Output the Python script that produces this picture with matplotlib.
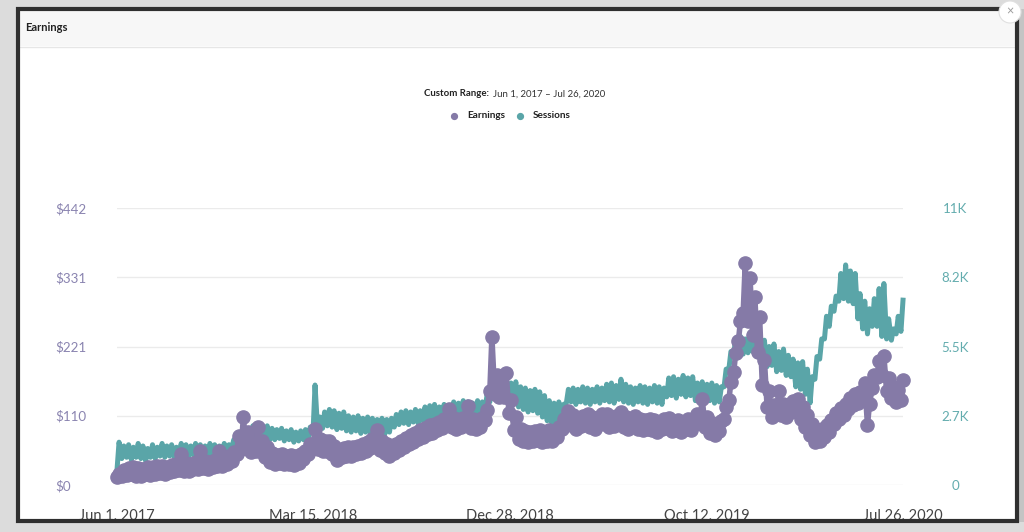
import matplotlib
matplotlib.use('Agg')
import matplotlib.pyplot as plt
import matplotlib.patches as mpatches
import numpy as np

plt.rcParams['font.family'] = ['Lato', 'DejaVu Sans']

# ---------------------------------------------------------------
# DATA  (weekly)
# ---------------------------------------------------------------
start = np.datetime64('2017-06-01')
n_weeks = 165

# earnings: low / high of each week ($)
earn_lo = [13, 14, 16, 17, 15, 14, 17, 16, 18, 19, 17, 20, 22, 24, 23, 22, 25, 26, 27, 25,
           28, 30, 30, 33, 39, 50, 58, 60, 52, 55, 54, 45, 37, 34, 35, 33, 34, 32, 35, 41,
           50, 62, 58, 54, 54, 49, 40, 45, 47, 46, 49, 51, 55, 59, 62, 56, 51, 47, 51, 56,
           61, 65, 69, 73, 77, 81, 83, 87, 91, 95, 93, 90, 93, 97, 91, 89, 93, 104, 150, 145,
           140, 140, 115, 88, 74, 70, 68, 70, 72, 69, 71, 70, 76, 90, 100, 96, 90, 94, 98, 92,
           89, 98, 98, 92, 94, 100, 92, 89, 94, 90, 87, 89, 88, 85, 89, 91, 86, 87, 84, 90,
           88, 98, 105, 92, 83, 79, 86, 105, 135, 180, 230, 275, 262, 240, 212, 160, 125, 109, 116, 111,
           109, 116, 119, 106, 93, 79, 68, 71, 77, 85, 97, 105, 111, 121, 127, 131, 140, 96, 155, 172,
           176, 150, 139, 132, 135]
earn_hi = [18, 24, 27, 28, 27, 26, 29, 28, 30, 31, 29, 32, 34, 50, 35, 34, 37, 55, 39, 37,
           40, 55, 43, 47, 53, 78, 108, 85, 68, 92, 70, 60, 51, 48, 49, 47, 48, 46, 49, 55,
           66, 90, 74, 70, 70, 63, 55, 59, 61, 60, 63, 65, 69, 73, 88, 70, 65, 61, 65, 70,
           75, 79, 83, 87, 91, 95, 97, 101, 105, 122, 107, 104, 107, 126, 105, 103, 107, 120, 236, 175,
           160, 178, 135, 108, 90, 86, 84, 86, 88, 85, 87, 86, 92, 106, 118, 112, 106, 110, 114, 108,
           105, 114, 114, 108, 110, 116, 108, 105, 110, 106, 103, 105, 104, 101, 105, 107, 102, 103, 100, 106,
           104, 114, 138, 108, 99, 95, 102, 125, 165, 210, 262, 354, 330, 300, 268, 200, 150, 127, 150, 129,
           127, 134, 137, 124, 111, 97, 85, 89, 95, 103, 115, 123, 129, 139, 145, 149, 162, 130, 175, 198,
           206, 170, 157, 151, 168]

# sessions: weekly dip / peak
sess_dip = [600, 1050, 1100, 1000, 1100, 1050, 950, 1100, 1050, 1150, 1100, 1150, 1100, 1200, 1150, 1100, 1200, 1150, 1100, 1200,
            1150, 1100, 1200, 1250, 1450, 1600, 1750, 1850, 1900, 1950, 1900, 1850, 1800, 1800, 1850, 1750, 1800, 1700, 1750, 1800,
            1850, 2050, 2100, 2250, 2350, 2300, 2200, 2250, 2150, 2100, 2150, 2050, 2100, 2050, 2000, 2050, 2000, 2100, 2300, 2400,
            2450, 2400, 2500, 2450, 2550, 2600, 2650, 2550, 2650, 2600, 2700, 2650, 2750, 2700, 2650, 2750, 2700, 3000, 3300, 3450,
            3400, 3450, 3350, 3400, 3100, 3000, 2900, 2950, 2850, 2700, 2550, 2450, 2500, 2600, 3250, 3300, 3200, 3300, 3250, 3200,
            3300, 3250, 3350, 3300, 3250, 3400, 3300, 3250, 3200, 3300, 3250, 3200, 3300, 3250, 3200, 3500, 3550, 3450, 3600, 3500,
            3550, 3350, 3400, 3300, 3350, 3250, 3300, 3900, 4600, 5200, 5300, 5200, 5250, 5300, 5100, 4950, 4700, 4750, 4500, 4550,
            4350, 4300, 3900, 3800, 3600, 3260, 4200, 5000, 5800, 6300, 6900, 7300, 7400, 7300, 7200, 6600, 6200, 6000, 6300, 6300,
            5900, 5800, 5750, 6000, 6100]
sess_peak = [1700, 1550, 1600, 1500, 1650, 1550, 1450, 1600, 1500, 1650, 1550, 1600, 1500, 1650, 1600, 1550, 1650, 1600, 1550, 1650,
             1600, 1550, 1650, 1600, 1800, 1950, 2150, 2250, 2350, 2400, 2300, 2350, 2250, 2200, 2250, 2150, 2200, 2100, 2150, 2200,
             2300, 3970, 2700, 2900, 3000, 2950, 2850, 2900, 2750, 2700, 2750, 2650, 2700, 2650, 2600, 2650, 2600, 2650, 2800, 2900,
             2950, 2900, 3000, 2950, 3100, 3150, 3200, 3100, 3200, 3150, 3300, 3250, 3350, 3300, 3250, 3350, 3300, 3600, 3900, 4200,
             4100, 4150, 4050, 4100, 3900, 3850, 3750, 3800, 3700, 3550, 3350, 3250, 3300, 3200, 3800, 3850, 3800, 3900, 3850, 3800,
             3900, 3850, 4000, 4050, 3950, 4200, 4000, 3900, 3850, 3950, 3900, 3850, 3950, 3900, 3850, 4250, 4300, 4200, 4350, 4250,
             4300, 4050, 4100, 4000, 4050, 3950, 3900, 4600, 5300, 5800, 5900, 5800, 5850, 5900, 5800, 5750, 5500, 5600, 5300, 5400,
             5150, 5000, 4850, 4900, 4600, 4300, 5100, 5800, 6700, 7100, 7500, 8400, 8740, 8500, 8400, 7600, 7300, 7000, 7400, 7800,
             8000, 6600, 6200, 6700, 7340]

earn_ticks = [0, 110.5, 221, 331.5, 442]
earn_labels = ['$0', '$110', '$221', '$331', '$442']
sess_ticks = [0, 2750, 5500, 8250, 11000]
sess_labels = ['0', '2.7K', '5.5K', '8.2K', '11K']
date_ticks = ['2017-06-01', '2018-03-15', '2018-12-28', '2019-10-12', '2020-07-26']
date_labels = ['Jun 1, 2017', 'Mar 15, 2018', 'Dec 28, 2018', 'Oct 12, 2019', 'Jul 26, 2020']

# weekly grid: dip / low at start of week, peak / high three days later
wk = start + np.arange(n_weeks) * np.timedelta64(7, 'D')
x_pair = np.column_stack([wk, wk + np.timedelta64(3, 'D')]).ravel()
earn_y = np.column_stack([earn_lo, earn_hi]).ravel()
sess_y = np.column_stack([sess_dip, sess_peak]).ravel()

PURPLE = '#857aa7'
TEAL = '#5aa5a8'

# ---------------------------------------------------------------
# CANVAS
# ---------------------------------------------------------------
W, H = 1024, 532
fig = plt.figure(figsize=(W / 100, H / 100), dpi=100)
fig.patch.set_facecolor('#dcdcdc')


def fx(x):
    return x / W


def fy(y):
    return 1 - y / H


def frect(x0, y0, x1, y1, **kw):
    r = mpatches.Rectangle((fx(x0), fy(y1)), fx(x1) - fx(x0), fy(y0) - fy(y1),
                           transform=fig.transFigure, **kw)
    fig.add_artist(r)
    return r


# card background + header band
frect(18, 9, 1017, 521, facecolor='white', edgecolor='none', zorder=-3)
frect(18, 9, 1017, 46, facecolor='#f7f7f7', edgecolor='none', zorder=-2)
fig.add_artist(plt.Line2D([fx(18), fx(1017)], [fy(46.5), fy(46.5)], color='#e6e6e6',
                          lw=1, transform=fig.transFigure, zorder=-1))

# ---------------------------------------------------------------
# AXES
# ---------------------------------------------------------------
ax = fig.add_axes([fx(117), fy(485), fx(903) - fx(117), (485 - 208) / H])
ax2 = ax.twinx()
ax.set_zorder(ax2.get_zorder() + 1)
ax.patch.set_visible(False)
ax2.patch.set_visible(False)

ax2.plot(x_pair, sess_y, color=TEAL, lw=3.6, clip_on=False, zorder=3)
ax.plot(x_pair, earn_y, color=PURPLE, lw=4, marker='o', ms=9.5,
        mfc=PURPLE, mec=PURPLE, clip_on=False, zorder=3)

ax.set_xlim(np.datetime64('2017-06-01'), np.datetime64('2020-07-26'))
ax.set_ylim(0, 442)
ax2.set_ylim(0, 11000)

ax.set_yticks(earn_ticks)
ax.set_yticklabels(earn_labels, ha='left')
ax2.set_yticks(sess_ticks)
ax2.set_yticklabels(sess_labels, ha='center')
ax.set_xticks(np.array(date_ticks, dtype='datetime64[D]'))
ax.set_xticklabels(date_labels)

ax2.yaxis.grid(True, color='#ebebeb', lw=1)
ax2.set_axisbelow(True)

ax.tick_params(axis='y', length=0, pad=44.6, labelsize=9.6, labelcolor='#8a84b0')
ax2.tick_params(axis='y', length=0, pad=37.5, labelsize=9.6, labelcolor='#63acae')
ax.tick_params(axis='x', length=0, pad=17, labelsize=10.5, labelcolor='#444444')

for a in (ax, ax2):
    for s in a.spines.values():
        s.set_visible(False)

# ---------------------------------------------------------------
# TEXTS
# ---------------------------------------------------------------
fig.text(fx(25), fy(28), 'Earnings', fontsize=8, fontweight='bold',
         color='#222222', va='center', ha='left')

fig.text(fx(489.5), fy(94), 'Custom Range:', fontsize=6.9, fontweight='bold',
         color='#222222', va='center', ha='right')
fig.text(fx(493), fy(94), 'Jun 1, 2017 \u2013 Jul 26, 2020', fontsize=6.9,
         color='#333333', va='center', ha='left')

for cx, label, col in [(454, 'Earnings', PURPLE), (520, 'Sessions', TEAL)]:
    fig.add_artist(plt.Line2D([fx(cx)], [fy(115.5)], marker='o', ms=4.2, color=col,
                              transform=fig.transFigure))
    fig.text(fx(cx + 13), fy(115.5), label, fontsize=7.2, fontweight='bold',
             color='#222222', va='center', ha='left')

# ---------------------------------------------------------------
# FRAME (drawn on top, cuts the tick labels at the bottom)
# ---------------------------------------------------------------
frect(0, 522, W, H, facecolor='#dcdcdc', edgecolor='none', zorder=20)
frect(18, 9, 1017, 521, fill=False, edgecolor='#2f2f2f', lw=3, zorder=21)
frect(1018, 9, W, 524, facecolor='#c4c4c4', edgecolor='none', zorder=19)

close_btn = mpatches.Ellipse((fx(1010), fy(12)), 22 / W, 22 / H, transform=fig.transFigure,
                             facecolor='white', edgecolor='#e0e0e0', lw=0.8, zorder=22)
fig.add_artist(close_btn)
fig.text(fx(1010), fy(11), '\u00d7', fontsize=9, color='#9a9a9a', ha='center',
         va='center', zorder=23)

fig.savefig('out.png', dpi=100, facecolor=fig.get_facecolor())
